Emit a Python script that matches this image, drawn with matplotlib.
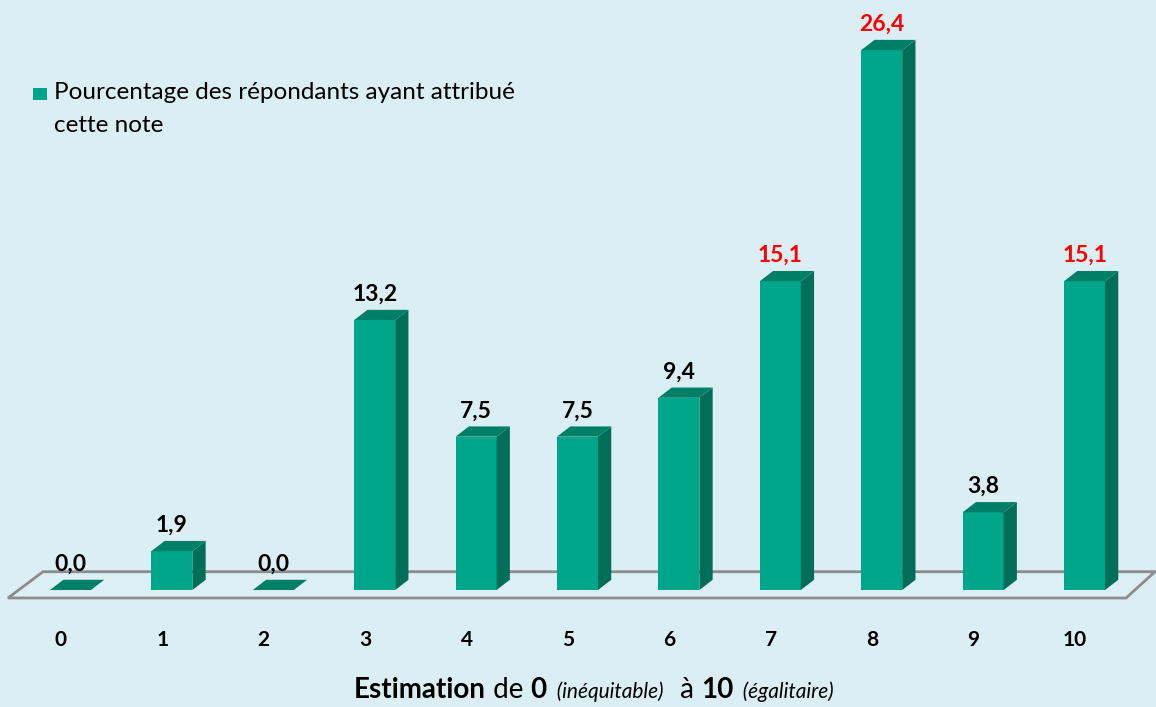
import matplotlib
matplotlib.use("Agg")
import matplotlib.pyplot as plt
from matplotlib.patches import Polygon, Rectangle
from matplotlib.offsetbox import TextArea, HPacker, AnchoredOffsetbox

# Daten
noten = ["0", "1", "2", "3", "4", "5", "6", "7", "8", "9", "10"]
werte = [0.0, 1.9, 0.0, 13.2, 7.5, 7.5, 9.4, 15.1, 26.4, 3.8, 15.1]
werte_labels = ["0,0", "1,9", "0,0", "13,2", "7,5", "7,5", "9,4", "15,1", "26,4", "3,8", "15,1"]
rot_markiert = [False, False, False, False, False, False, False, True, True, False, True]
legende_zeilen = ["Pourcentage des répondants ayant attribué", "cette note"]

# Farben / Stil
hintergrund = "#DAEEF3"
farbe_front = "#00A68A"
farbe_seite = "#006E58"
farbe_oben = "#007F68"
farbe_boden = "#8C8C8C"
schrift = "Lato"

breite = 0.404      # Balkenbreite (Kategorie-Einheiten)
tiefe_x = 0.131     # 3D-Versatz nach rechts
tiefe_y = 0.50      # 3D-Versatz nach oben (Wert-Einheiten)

fig = plt.figure(figsize=(11.56, 7.07), dpi=100)
fig.patch.set_facecolor(hintergrund)
ax = fig.add_axes([0, 0, 1, 1])
ax.set_facecolor(hintergrund)
ax.set_xlim(-0.695, 10.705)
ax.set_ylim(-5.72, 28.85)
ax.axis("off")

# Boden (Parallelogramm)
n = len(noten)
boden = Polygon([(-0.616, -0.39), (n - 1 + 0.41, -0.39),
                 (n - 1 + 0.695, 0.895), (-0.271, 0.895)],
                closed=True, facecolor="#DCEFF5", edgecolor=farbe_boden,
                linewidth=2, zorder=1)
ax.add_patch(boden)

x = list(range(n))
ax.bar(x, werte, width=breite, color=farbe_front, zorder=3)

for i, v in enumerate(werte):
    rechts = i + breite / 2
    links = i - breite / 2
    if v > 0:
        seite = Polygon([(rechts, 0), (rechts + tiefe_x, tiefe_y),
                         (rechts + tiefe_x, v + tiefe_y), (rechts, v)],
                        closed=True, facecolor=farbe_seite, edgecolor="none", zorder=3)
        ax.add_patch(seite)
    oben = Polygon([(links, v), (rechts, v), (rechts + tiefe_x, v + tiefe_y),
                    (links + tiefe_x, v + tiefe_y)],
                   closed=True, facecolor=farbe_oben, edgecolor="none", zorder=3)
    ax.add_patch(oben)

    farbe = "#FF0000" if rot_markiert[i] else "black"
    ax.text(i, v + tiefe_y + 0.45, werte_labels[i], ha="center", va="baseline",
            fontsize=16.5, fontweight="bold", color=farbe, family=schrift, zorder=4)

    ax.text(i - 0.094, -2.45, noten[i], ha="center", va="center",
            fontsize=15, fontweight="bold", color="black", family=schrift)

# Legende
fig.patches.append(Rectangle((33 / 1156, 1 - 100 / 707), 14 / 1156, 12 / 707,
                             transform=fig.transFigure, facecolor=farbe_front,
                             edgecolor="none"))
for k, zeile in enumerate(legende_zeilen):
    fig.text(53.5 / 1156, 1 - (99 + 33 * k) / 707, zeile, ha="left", va="baseline",
             fontsize=17.5, family=schrift, color="black")

# x-Achsentitel aus mehreren Teilen
teile = [
    ("Estimation", dict(fontsize=20, fontweight="bold")),
    (" de ", dict(fontsize=20)),
    ("0", dict(fontsize=20, fontweight="bold")),
    ("  (inéquitable)  ", dict(fontsize=15, style="italic")),
    (" à ", dict(fontsize=20)),
    ("10", dict(fontsize=20, fontweight="bold")),
    ("  (égalitaire)", dict(fontsize=15, style="italic")),
]
boxen = []
for txt, props in teile:
    props = dict(props, family=schrift, color="black")
    boxen.append(TextArea(txt, textprops=props))
packer = HPacker(children=boxen, align="baseline", pad=0, sep=0)
anker = AnchoredOffsetbox(loc="center", child=packer, pad=0, frameon=False,
                          bbox_to_anchor=(594 / 1156, 1 - 690 / 707),
                          bbox_transform=fig.transFigure, borderpad=0)
fig.add_artist(anker)

fig.savefig("out.png", dpi=100, facecolor=hintergrund)
